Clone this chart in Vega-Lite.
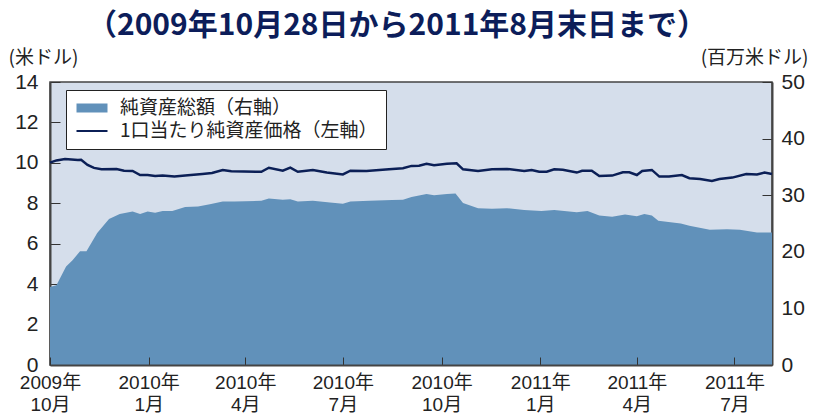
{
  "$schema": "https://vega.github.io/schema/vega-lite/v6.json",
  "width": 722,
  "height": 283,
  "autosize": {"type": "none"},
  "padding": {"left": 50, "top": 82, "right": 42, "bottom": 51},
  "background": "white",
  "title": {
    "text": "（2009年10月28日から2011年8月末日まで）",
    "font": "Noto Sans CJK JP",
    "fontSize": 30,
    "fontWeight": "bold",
    "color": "#0c1d5a",
    "anchor": "middle",
    "dx": -14,
    "offset": 7
  },
  "datasets": {
    "nav": [
      {"date": "2009-10-01", "v": 10.01}, {"date": "2009-10-07", "v": 10.12}, {"date": "2009-10-15", "v": 10.19},
      {"date": "2009-10-27", "v": 10.14}, {"date": "2009-10-30", "v": 10.15}, {"date": "2009-11-05", "v": 9.9},
      {"date": "2009-11-11", "v": 9.75}, {"date": "2009-11-18", "v": 9.68}, {"date": "2009-12-02", "v": 9.7},
      {"date": "2009-12-09", "v": 9.61}, {"date": "2009-12-17", "v": 9.6}, {"date": "2009-12-24", "v": 9.4},
      {"date": "2009-12-31", "v": 9.4}, {"date": "2010-01-07", "v": 9.35}, {"date": "2010-01-14", "v": 9.38},
      {"date": "2010-01-25", "v": 9.32}, {"date": "2010-02-04", "v": 9.38}, {"date": "2010-02-20", "v": 9.45},
      {"date": "2010-03-01", "v": 9.5}, {"date": "2010-03-11", "v": 9.65}, {"date": "2010-03-19", "v": 9.58},
      {"date": "2010-04-16", "v": 9.56}, {"date": "2010-04-23", "v": 9.76}, {"date": "2010-05-06", "v": 9.61},
      {"date": "2010-05-13", "v": 9.76}, {"date": "2010-05-20", "v": 9.56}, {"date": "2010-06-03", "v": 9.65},
      {"date": "2010-06-16", "v": 9.52}, {"date": "2010-07-01", "v": 9.43}, {"date": "2010-07-08", "v": 9.61},
      {"date": "2010-07-23", "v": 9.6}, {"date": "2010-08-13", "v": 9.68}, {"date": "2010-08-26", "v": 9.73},
      {"date": "2010-09-03", "v": 9.85}, {"date": "2010-09-10", "v": 9.86}, {"date": "2010-09-17", "v": 9.95},
      {"date": "2010-09-24", "v": 9.88}, {"date": "2010-10-06", "v": 9.95}, {"date": "2010-10-15", "v": 9.98},
      {"date": "2010-10-21", "v": 9.68}, {"date": "2010-11-04", "v": 9.6}, {"date": "2010-11-17", "v": 9.68},
      {"date": "2010-12-01", "v": 9.7}, {"date": "2010-12-17", "v": 9.6}, {"date": "2010-12-24", "v": 9.65},
      {"date": "2010-12-31", "v": 9.56}, {"date": "2011-01-07", "v": 9.56}, {"date": "2011-01-14", "v": 9.68},
      {"date": "2011-01-22", "v": 9.66}, {"date": "2011-02-04", "v": 9.52}, {"date": "2011-02-09", "v": 9.61},
      {"date": "2011-02-18", "v": 9.61}, {"date": "2011-02-25", "v": 9.35}, {"date": "2011-03-09", "v": 9.37},
      {"date": "2011-03-19", "v": 9.53}, {"date": "2011-03-25", "v": 9.53}, {"date": "2011-04-01", "v": 9.4},
      {"date": "2011-04-06", "v": 9.6}, {"date": "2011-04-15", "v": 9.65}, {"date": "2011-04-22", "v": 9.32},
      {"date": "2011-05-01", "v": 9.32}, {"date": "2011-05-13", "v": 9.4}, {"date": "2011-05-20", "v": 9.24},
      {"date": "2011-05-30", "v": 9.2}, {"date": "2011-06-10", "v": 9.1}, {"date": "2011-06-17", "v": 9.2},
      {"date": "2011-06-29", "v": 9.27}, {"date": "2011-07-12", "v": 9.45}, {"date": "2011-07-22", "v": 9.43},
      {"date": "2011-07-29", "v": 9.52}, {"date": "2011-08-05", "v": 9.45}
    ],
    "aum": [
      {"date": "2009-10-01", "v": 13.8}, {"date": "2009-10-07", "v": 14.1}, {"date": "2009-10-16", "v": 17.4},
      {"date": "2009-10-22", "v": 18.5}, {"date": "2009-10-29", "v": 20.1}, {"date": "2009-11-04", "v": 20.1},
      {"date": "2009-11-14", "v": 23.3}, {"date": "2009-11-25", "v": 25.8}, {"date": "2009-12-05", "v": 26.7},
      {"date": "2009-12-17", "v": 27.1}, {"date": "2009-12-24", "v": 26.7}, {"date": "2009-12-31", "v": 27.1},
      {"date": "2010-01-07", "v": 26.9}, {"date": "2010-01-14", "v": 27.2}, {"date": "2010-01-23", "v": 27.2},
      {"date": "2010-02-04", "v": 27.9}, {"date": "2010-02-16", "v": 28.0}, {"date": "2010-02-27", "v": 28.4},
      {"date": "2010-03-11", "v": 28.9}, {"date": "2010-03-22", "v": 28.9}, {"date": "2010-04-16", "v": 29.0},
      {"date": "2010-04-23", "v": 29.4}, {"date": "2010-05-06", "v": 29.2}, {"date": "2010-05-13", "v": 29.3},
      {"date": "2010-05-20", "v": 28.9}, {"date": "2010-06-03", "v": 29.0}, {"date": "2010-06-19", "v": 28.7},
      {"date": "2010-07-01", "v": 28.5}, {"date": "2010-07-08", "v": 28.9}, {"date": "2010-07-26", "v": 29.0},
      {"date": "2010-08-16", "v": 29.15}, {"date": "2010-08-26", "v": 29.2}, {"date": "2010-09-03", "v": 29.7},
      {"date": "2010-09-17", "v": 30.2}, {"date": "2010-09-24", "v": 30.0}, {"date": "2010-10-06", "v": 30.2},
      {"date": "2010-10-14", "v": 30.3}, {"date": "2010-10-21", "v": 28.6}, {"date": "2010-11-04", "v": 27.7},
      {"date": "2010-11-17", "v": 27.6}, {"date": "2010-12-01", "v": 27.7}, {"date": "2010-12-17", "v": 27.4},
      {"date": "2011-01-02", "v": 27.2}, {"date": "2011-01-14", "v": 27.4}, {"date": "2011-02-04", "v": 27.0},
      {"date": "2011-02-14", "v": 27.2}, {"date": "2011-02-25", "v": 26.4}, {"date": "2011-03-09", "v": 26.2},
      {"date": "2011-03-21", "v": 26.6}, {"date": "2011-04-01", "v": 26.3}, {"date": "2011-04-08", "v": 26.7},
      {"date": "2011-04-15", "v": 26.4}, {"date": "2011-04-21", "v": 25.5}, {"date": "2011-05-12", "v": 25.0},
      {"date": "2011-05-20", "v": 24.6}, {"date": "2011-06-08", "v": 23.9}, {"date": "2011-06-24", "v": 24.0},
      {"date": "2011-07-06", "v": 23.9}, {"date": "2011-07-22", "v": 23.4}, {"date": "2011-08-05", "v": 23.4}
    ]
  },
  "encoding": {
    "x": {
      "field": "date",
      "type": "temporal",
      "scale": {
        "type": "utc",
        "domain": ["2009-10-01", "2011-08-05"]
      },
      "axis": {
        "title": null,
        "zindex": 1,
        "values": ["2009-10-01", "2010-01-01", "2010-04-01", "2010-07-01", "2010-10-01", "2011-01-01", "2011-04-01", "2011-07-01"],
        "labelExpr": "[utcFormat(datum.value, '%Y年'), utcFormat(datum.value, '%-m月')]",
        "labelFontSize": 19,
        "labelLineHeight": 22,
        "labelPadding": 16,
        "labelFlush": false,
        "labelOverlap": false,
        "tickSize": -8,
        "tickWidth": 1,
        "domainWidth": 2
      }
    }
  },
  "layer": [
    {
      "data": {"name": "aum"},
      "mark": {"type": "area", "interpolate": "linear"},
      "encoding": {
        "y": {
          "field": "v",
          "type": "quantitative",
          "scale": {"domain": [0, 50], "nice": false},
          "axis": {
            "orient": "right",
            "values": [0, 10, 20, 30, 40, 50],
            "title": "(百万米ドル)",
            "titleAngle": 0,
            "titleX": 36,
            "titleY": -25,
            "titleAlign": "right",
            "titleBaseline": "middle",
            "titleFont": "Noto Sans CJK JP",
            "titleFontSize": 19,
            "titleFontWeight": "normal",
            "titleColor": "#222",
            "labelFontSize": 21,
            "labelPadding": 19,
            "labelFlush": false,
            "tickSize": -10,
            "domainWidth": 2,
            "zindex": 0
          }
        },
        "color": {
          "datum": "純資産総額（右軸）",
          "type": "nominal",
          "scale": {
            "domain": ["純資産総額（右軸）", "1口当たり純資産価格（左軸）"],
            "range": ["#6191ba", "#0b1f56"]
          },
          "legend": {
            "title": null,
            "orient": "none",
            "legendX": 16,
            "legendY": 8,
            "padding": 8,
            "fillColor": "white",
            "strokeColor": "#222",
            "labelFont": "Noto Sans CJK JP",
            "labelFontSize": 19,
            "labelColor": "#222",
            "labelLimit": 500,
            "labelOffset": 18,
            "symbolSize": 400,
            "symbolOffset": 8,
            "symbolStrokeWidth": 0,
            "rowPadding": 3,
            "encode": {
              "symbols": {
                "update": {
                  "shape": {"signal": "datum.value === '純資産総額（右軸）' ? 'M-1.55,-0.45H1.55V0.45H-1.55Z' : 'M-1.55,-0.1H1.55V0.1H-1.55Z'"}
                }
              }
            }
          }
        }
      }
    },
    {
      "data": {"name": "nav"},
      "mark": {"type": "line", "strokeWidth": 2.5},
      "encoding": {
        "y": {
          "field": "v",
          "type": "quantitative",
          "scale": {"domain": [0, 14], "nice": false},
          "axis": {
            "orient": "left",
            "values": [0, 2, 4, 6, 8, 10, 12, 14],
            "title": "(米ドル)",
            "titleAngle": 0,
            "titleX": -42,
            "titleY": -25,
            "titleAlign": "left",
            "titleBaseline": "middle",
            "titleFont": "Noto Sans CJK JP",
            "titleFontSize": 19,
            "titleFontWeight": "normal",
            "titleColor": "#222",
            "labelFontSize": 21,
            "labelPadding": 22,
            "labelFlush": false,
            "tickSize": -10,
            "domainWidth": 2,
            "zindex": 0
          }
        },
        "color": {"datum": "1口当たり純資産価格（左軸）", "type": "nominal"}
      }
    }
  ],
  "resolve": {"scale": {"y": "independent"}, "axis": {"y": "independent"}},
  "config": {
    "view": {"fill": "#d5deeb", "stroke": "#444", "strokeWidth": 1.5},
    "axis": {
      "grid": false,
      "domainColor": "#444",
      "tickColor": "#333",
      "labelColor": "#222",
      "labelFont": "Liberation Sans, Noto Sans CJK JP"
    }
  }
}
